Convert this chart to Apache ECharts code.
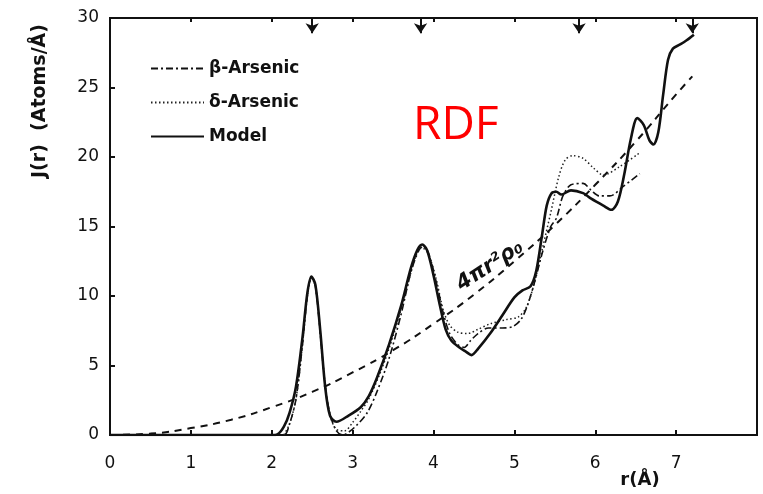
<!DOCTYPE html>
<html>
<head>
    <meta charset="utf-8" />
    <title>RDF</title>
    <script src="https://cdn.jsdelivr.net/npm/echarts@6/dist/echarts.min.js"></script>
</head>
<body style="margin:0;background:#fff;">
    <div id="main" style="width:763px;height:494px;"></div>
    <script type="text/javascript">
        // values, [r, J(r)]
        const modelData = [[0,0],[1.0,0],[2.0,0],[2.07,0.05],[2.15,0.6],[2.22,1.6],[2.3,3.5],[2.38,7.0],[2.44,10.2],[2.49,11.4],[2.54,10.8],[2.6,7.5],[2.66,3.5],[2.72,1.4],[2.8,0.95],[2.95,1.4],[3.1,2.0],[3.2,2.8],[3.3,4.1],[3.45,6.5],[3.6,9.3],[3.72,12.0],[3.8,13.3],[3.86,13.7],[3.92,13.3],[4.0,11.5],[4.08,9.3],[4.15,7.6],[4.22,6.8],[4.32,6.3],[4.4,6.0],[4.47,5.75],[4.55,6.2],[4.7,7.3],[4.85,8.6],[5.0,9.9],[5.1,10.4],[5.2,10.7],[5.27,11.8],[5.34,14.3],[5.4,16.5],[5.46,17.4],[5.52,17.5],[5.58,17.3],[5.7,17.6],[5.85,17.4],[5.95,17.0],[6.1,16.5],[6.2,16.2],[6.28,16.8],[6.36,18.8],[6.44,21.3],[6.52,22.8],[6.6,22.3],[6.67,21.2],[6.72,20.9],[6.78,21.8],[6.84,24.5],[6.9,27.0],[6.96,27.8],[7.05,28.1],[7.13,28.4],[7.22,28.8]];
        const betaData = [[1.8,0],[2.15,0],[2.22,0.8],[2.3,2.6],[2.38,6.5],[2.44,10.0],[2.49,11.3],[2.54,10.7],[2.6,7.3],[2.66,3.6],[2.72,1.5],[2.8,0.3],[2.88,0],[2.95,0.2],[3.05,0.7],[3.18,1.6],[3.3,3.1],[3.45,5.5],[3.6,8.7],[3.72,11.7],[3.82,13.3],[3.88,13.6],[3.95,12.9],[4.05,10.6],[4.12,8.8],[4.2,7.3],[4.3,6.5],[4.38,6.3],[4.46,6.8],[4.55,7.3],[4.68,7.7],[4.85,7.7],[4.98,7.8],[5.08,8.3],[5.16,9.3],[5.25,11.0],[5.35,13.2],[5.45,15.0],[5.52,15.6],[5.6,17.2],[5.7,18.0],[5.85,18.1],[5.95,17.6],[6.05,17.2],[6.18,17.2],[6.35,17.9],[6.55,18.8]];
        const deltaData = [[2.15,0],[2.22,0.8],[2.3,2.6],[2.38,6.5],[2.44,10.0],[2.49,11.3],[2.54,10.7],[2.6,7.3],[2.66,3.6],[2.72,1.4],[2.8,0.4],[2.9,0.3],[3.0,0.9],[3.1,1.7],[3.2,2.6],[3.35,4.6],[3.5,7.1],[3.65,10.1],[3.77,12.7],[3.85,13.5],[3.93,13.1],[4.03,11.3],[4.12,9.0],[4.2,7.9],[4.3,7.4],[4.42,7.3],[4.55,7.6],[4.7,8.0],[4.9,8.3],[5.05,8.5],[5.15,9.2],[5.25,11.0],[5.35,13.5],[5.45,16.0],[5.55,18.6],[5.63,19.8],[5.72,20.1],[5.85,19.9],[5.98,19.2],[6.1,18.7],[6.3,19.3],[6.55,20.3]];
        const densityData = [[0,0],[0.5,0.1],[1,0.5],[1.5,1.1],[2,2.0],[2.5,3.1],[3,4.5],[3.5,6.1],[4,8.0],[4.5,10.1],[5,12.5],[5.5,15.1],[6,18.0],[6.5,21.1],[7,24.5],[7.2,25.8]];
        // arrow marks on the top edge
        const arrowR = [2.5, 3.84, 5.8, 7.2];

        const font = 'DejaVu Sans';
        let myChart = echarts.init(document.getElementById('main'));

        let option = {
            animation: false,
            backgroundColor: '#fff',
            grid: {
                left: 110, right: 6, top: 18, bottom: 59,
                show: true, borderColor: '#111', borderWidth: 2
            },
            legend: {
                data: ['β-Arsenic', 'δ-Arsenic', 'Model'],
                orient: 'vertical',
                left: 145, top: 55,
                itemWidth: 53, itemHeight: 14, itemGap: 17,
                itemStyle: { opacity: 0 },
                textStyle: { fontFamily: font, fontSize: 17, fontWeight: 'bold', color: '#111' }
            },
            xAxis: [{
                type: 'value', min: 0, max: 8, interval: 1,
                axisLine: { lineStyle: { color: '#111', width: 2 } },
                axisTick: { inside: true, length: 5, lineStyle: { color: '#111', width: 2 } },
                axisLabel: {
                    margin: 20, fontFamily: font, fontSize: 17, color: '#111',
                    showMaxLabel: false
                },
                splitLine: { show: false }
            }, {
                type: 'value', min: 0, max: 8, interval: 1, position: 'top',
                axisLine: { lineStyle: { color: '#111', width: 2 } },
                axisTick: { inside: true, length: 4, lineStyle: { color: '#111', width: 2 } },
                axisLabel: { show: false },
                splitLine: { show: false }
            }],
            yAxis: {
                type: 'value', min: 0, max: 30, interval: 5,
                axisLine: { lineStyle: { color: '#111', width: 2 } },
                axisTick: { inside: true, length: 5, lineStyle: { color: '#111', width: 2 } },
                axisLabel: { margin: 11, fontFamily: font, fontSize: 17, color: '#111' },
                splitLine: { show: false }
            },
            series: [{
                name: 'β-Arsenic', type: 'line', data: betaData,
                symbol: 'none', smooth: 0.3, z: 3,
                lineStyle: { color: '#111', width: 1.6, type: [7, 3, 2, 3] },
                itemStyle: { color: '#111' }
            }, {
                name: 'δ-Arsenic', type: 'line', data: deltaData,
                symbol: 'none', smooth: 0.3, z: 3,
                lineStyle: { color: '#222', width: 1.5, type: [1.5, 2.5] },
                itemStyle: { color: '#222' }
            }, {
                name: 'Model', type: 'line', data: modelData,
                symbol: 'none', smooth: 0.3, z: 4,
                lineStyle: { color: '#111', width: 2.6 },
                itemStyle: { color: '#111' }
            }, {
                name: '4πr²ρ₀', type: 'line', data: densityData,
                symbol: 'none', smooth: true, z: 2,
                lineStyle: { color: '#111', width: 2, type: [7, 6] },
                markLine: {
                    silent: true, symbol: ['none', 'arrow'], symbolSize: 10,
                    label: { show: false },
                    lineStyle: { color: '#111', width: 2, type: 'solid' },
                    data: arrowR.map(r => [{ coord: [r, 30] }, { coord: [r, 28.9] }])
                }
            }],
            graphic: [{
                type: 'text', left: 413, top: 103,
                style: { text: 'RDF', fill: '#f00', font: '46px "Open Sans", sans-serif' }
            }, {
                type: 'text', x: 40, y: 101, rotation: Math.PI / 2,
                style: {
                    text: 'J(r)  (Atoms/Å)', fill: '#111', align: 'center', verticalAlign: 'middle',
                    font: 'bold 19px "DejaVu Sans"'
                }
            }, {
                type: 'text', x: 640, y: 480,
                style: {
                    text: 'r(Å)', fill: '#111', align: 'center', verticalAlign: 'middle',
                    font: 'bold 18px "DejaVu Sans"'
                }
            }, {
                type: 'text', x: 490, y: 266, rotation: 0.58,
                style: {
                    text: '4πr²ρ₀', fill: '#111', align: 'center', verticalAlign: 'middle',
                    font: 'italic bold 21px "DejaVu Sans"'
                }
            }]
        };

        myChart.setOption(option);
    </script>
</body>
</html>
